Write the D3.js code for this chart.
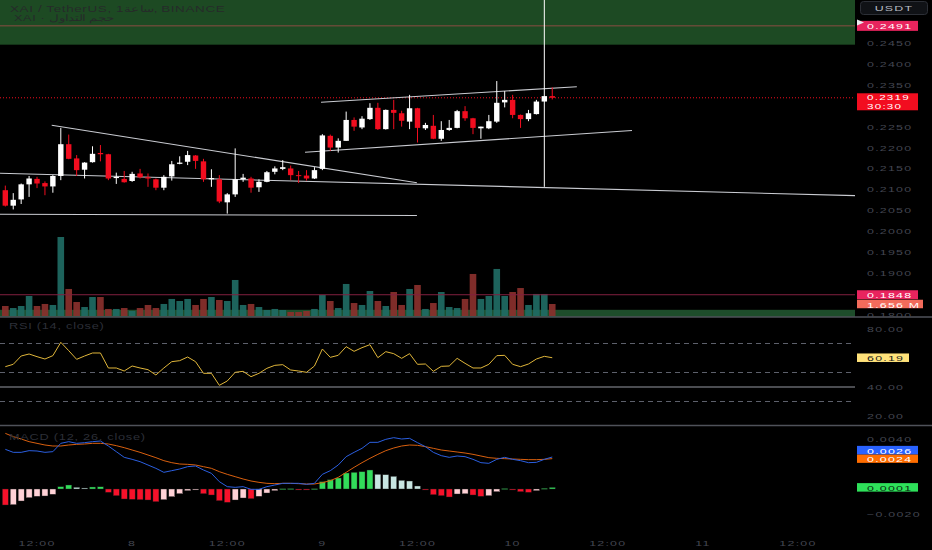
<!DOCTYPE html>
<html><head><meta charset="utf-8">
<script src="https://cdn.jsdelivr.net/npm/d3@7"></script>
<style>
html,body{margin:0;padding:0;background:#000;}
svg{display:block;}
text{font-family:"Liberation Sans",Arial,sans-serif;}
</style></head><body>
<svg id="chart" width="932" height="550"></svg>
<script>
// ---------------- DATA ----------------
const firstCandle = Date.UTC(2024, 7, 7, 8); // hourly candles
const opens  = [0.2098,0.2061,0.2076,0.2112,0.2125,0.2115,0.2107,0.2132,0.2208,0.2174,
                0.2147,0.2165,0.2187,0.2184,0.2127,0.2125,0.2120,0.2138,0.2129,0.2124,
                0.2104,0.2131,0.2161,0.2166,0.2181,0.2167,0.2124,0.2124,0.2069,0.2088,
                0.2124,0.2126,0.2105,0.2118,0.2142,0.2149,0.2150,0.2134,0.2133,0.2126,
                0.2149,0.2228,0.2200,0.2216,0.2266,0.2248,0.2268,0.2295,0.2244,0.2290,
                0.2282,0.2262,0.2294,0.2246,0.2252,0.2221,0.2242,0.2247,0.2287,0.2270,
                0.2246,0.2246,0.2262,0.2308,0.2314,0.2278,0.2268,0.2280,0.2310,0.2323];
const highs  = [0.2109,0.2091,0.2114,0.2132,0.2130,0.2119,0.2134,0.2247,0.2231,0.2182,
                0.2165,0.2203,0.2206,0.2185,0.2140,0.2144,0.2142,0.2149,0.2138,0.2126,
                0.2134,0.2168,0.2179,0.2192,0.2182,0.2173,0.2148,0.2134,0.2091,0.2198,
                0.2137,0.2130,0.2124,0.2144,0.2155,0.2170,0.2157,0.2144,0.2146,0.2153,
                0.2232,0.2231,0.2222,0.2286,0.2272,0.2275,0.2306,0.2307,0.2291,0.2314,
                0.2288,0.2326,0.2295,0.2259,0.2278,0.2263,0.2266,0.2290,0.2299,0.2271,
                0.2250,0.2278,0.2359,0.2335,0.2326,0.2279,0.2290,0.2314,0.2600,0.2344];
const lows   = [0.2059,0.2052,0.2065,0.2082,0.2103,0.2086,0.2092,0.2122,0.2172,0.2132,
                0.2126,0.2164,0.2167,0.2122,0.2113,0.2116,0.2118,0.2126,0.2106,0.2098,
                0.2098,0.2121,0.2160,0.2158,0.2149,0.2118,0.2106,0.2067,0.2042,0.2082,
                0.2118,0.2092,0.2094,0.2117,0.2136,0.2146,0.2122,0.2115,0.2121,0.2125,
                0.2146,0.2192,0.2188,0.2216,0.2240,0.2244,0.2266,0.2242,0.2243,0.2244,
                0.2250,0.2244,0.2212,0.2242,0.2220,0.2216,0.2240,0.2246,0.2264,0.2232,
                0.2221,0.2244,0.2259,0.2296,0.2270,0.2247,0.2263,0.2279,0.2106,0.2315];
const closes = [0.2061,0.2075,0.2112,0.2126,0.2114,0.2107,0.2132,0.2208,0.2173,0.2146,
                0.2164,0.2185,0.2184,0.2126,0.2130,0.2117,0.2137,0.2129,0.2126,0.2104,
                0.2130,0.2160,0.2164,0.2182,0.2168,0.2124,0.2127,0.2071,0.2088,0.2124,
                0.2128,0.2104,0.2118,0.2141,0.2150,0.2153,0.2134,0.2132,0.2126,0.2146,
                0.2229,0.2200,0.2216,0.2266,0.2250,0.2269,0.2295,0.2244,0.2290,0.2283,
                0.2264,0.2294,0.2247,0.2254,0.2221,0.2242,0.2247,0.2287,0.2270,0.2247,
                0.2250,0.2263,0.2307,0.2314,0.2278,0.2268,0.2282,0.2310,0.2323,0.2319];
const volumes = [1.38,1.10,1.38,2.76,1.38,1.66,1.52,10.9,3.73,1.93,
                 1.24,2.62,2.62,0.97,0.97,1.10,0.69,1.10,1.52,1.10,
                 1.66,2.35,2.07,2.35,1.52,2.35,2.62,2.21,2.07,4.97,
                 1.52,1.66,1.24,0.83,0.97,0.83,0.55,0.55,0.69,0.97,
                 2.90,2.07,1.10,4.42,1.79,1.52,3.45,2.07,1.38,3.31,
                 1.52,3.73,4.28,0.97,1.79,3.31,1.24,1.10,2.35,5.80,
                 2.35,2.76,6.49,2.76,3.31,3.86,1.52,3.04,3.04,1.656];
const rsiValues = [54.03,55.64,61.38,62.76,60.92,59.31,61.61,70.81,65.06,59.08,
                   61.38,63.45,63.45,53.11,53.11,51.04,54.48,53.11,51.96,48.28,
                   53.11,57.47,58.16,60.69,57.47,49.43,49.43,41.15,44.14,50.12,
                   50.81,47.13,49.43,52.88,54.94,55.40,51.73,51.04,50.12,54.48,
                   66.21,60.46,61.84,67.82,64.60,67.13,69.20,60.23,64.37,62.99,
                   59.77,62.99,55.64,55.86,50.81,54.25,54.48,59.77,56.32,53.11,
                   53.11,55.64,61.61,61.84,55.64,54.03,55.86,59.31,61.15,60.19];
const macdValues = [0.003173,0.002933,0.002933,0.003067,0.003040,0.002933,0.002987,0.003653,0.003787,0.003653,
                    0.003707,0.003787,0.003840,0.003440,0.002987,0.002533,0.002373,0.002187,0.001920,0.001653,
                    0.001333,0.001467,0.001600,0.001787,0.001840,0.001520,0.001253,0.000587,0.000187,0.000133,
                    0.000187,-0.000027,-0.000027,0.000187,0.000320,0.000453,0.000453,0.000453,0.000373,0.000453,
                    0.001173,0.001467,0.001920,0.002587,0.002933,0.003253,0.003733,0.003733,0.003973,0.004107,
                    0.004000,0.004053,0.003707,0.003387,0.002933,0.002667,0.002533,0.002640,0.002587,0.002373,
                    0.002107,0.002053,0.002373,0.002533,0.002373,0.002267,0.002107,0.002133,0.002373,0.002560];
const signalValues = [0.004453,0.004187,0.004000,0.003787,0.003653,0.003520,0.003440,0.003440,0.003520,0.003573,
                      0.003600,0.003653,0.003653,0.003600,0.003467,0.003307,0.003120,0.002933,0.002720,0.002507,
                      0.002267,0.002107,0.002000,0.001973,0.001920,0.001787,0.001653,0.001387,0.001173,0.000987,
                      0.000800,0.000640,0.000533,0.000453,0.000427,0.000453,0.000453,0.000427,0.000400,0.000400,
                      0.000507,0.000667,0.000933,0.001333,0.001733,0.002107,0.002453,0.002773,0.003067,0.003280,
                      0.003440,0.003520,0.003493,0.003387,0.003253,0.003120,0.003040,0.002960,0.002880,0.002773,
                      0.002640,0.002507,0.002453,0.002427,0.002400,0.002373,0.002347,0.002347,0.002373,0.002430];
const histValues = [-0.001280,-0.001256,-0.000960,-0.000696,-0.000584,-0.000560,-0.000424,0.000184,0.000320,0.000136,
                    0.000080,0.000160,0.000176,-0.000264,-0.000536,-0.000800,-0.000824,-0.000856,-0.000880,-0.001016,
                    -0.000856,-0.000616,-0.000376,-0.000136,-0.000080,-0.000376,-0.000480,-0.000936,-0.001064,-0.000880,
                    -0.000720,-0.000776,-0.000584,-0.000320,-0.000136,0.000024,0.000032,-0.000024,-0.000056,0.000024,
                    0.000584,0.000744,0.000880,0.001280,0.001336,0.001384,0.001520,0.001176,0.001144,0.001016,
                    0.000696,0.000640,0.000240,-0.000040,-0.000456,-0.000536,-0.000640,-0.000400,-0.000384,-0.000480,
                    -0.000584,-0.000536,-0.000216,0.000040,-0.000080,-0.000216,-0.000264,-0.000136,0.000056,0.000130];
// visible tick labels (those hidden behind value labels in the reference are left out)
const priceTicks = [0.2450,0.2400,0.2350,0.2250,0.2200,0.2150,0.2100,0.2050,0.2000,0.1950,0.1900,0.1800];
const rsiTicks = [80,40,20];
const rsiBands = [70,50,30];
const rsiLevelLine = 40;
const macdTicks = [0.004,-0.002];
const timeTicks = ["2024-08-07T12:00Z","2024-08-08T00:00Z","2024-08-08T12:00Z","2024-08-09T00:00Z",
                   "2024-08-09T12:00Z","2024-08-10T00:00Z","2024-08-10T12:00Z","2024-08-11T00:00Z","2024-08-11T12:00Z"];
// drawings (hours from 7 Aug 00:00, price)
const trendLines = [
  {h1:13.85,p1:0.22532,h2:59.93,p2:0.21157},
  {h1:0,p1:0.2142,h2:115.2,p2:0.2085},
  {h1:0,p1:0.2041,h2:59.93,p2:0.20375},
  {h1:47.83,p1:0.23082,h2:80.1,p2:0.23455},
  {h1:45.81,p1:0.21886,h2:87.06,p2:0.22408}
];
const greenZone = {top:0.2600, bottom:0.2446};
const greenBand = {top:0.1812, bottom:0.1790};
const alertLevels = [0.2491, 0.1848];
const countdown = "30:30";

// ---------------- LAYOUT ----------------
const W = 932, H = 550, plotR = 855;
const svg = d3.select("#chart");
const dayStart = Date.UTC(2024,7,7,0);
const hourAt = h => new Date(dayStart + h*3600e3);
const times = opens.map((_, i) => new Date(firstCandle + i*3600e3));
const x = d3.scaleUtc().domain([hourAt(0), hourAt(120)]).range([-58.1, 893.1]);
const yP = d3.scaleLinear().domain([0.2450, 0.1900]).range([43, 273]);
const yV = d3.scaleLinear().domain([0, 10.9]).range([316, 237]);
const yR = d3.scaleLinear().domain([20, 80]).range([416, 329]);
const yM = d3.scaleLinear().domain([-0.002, 0.004]).range([514, 439]);

const up = "#ffffff", down = "#f20d1f";
const defs = svg.append("defs");
defs.append("clipPath").attr("id","cMain").append("rect").attr("x",0).attr("y",0).attr("width",plotR).attr("height",317);
defs.append("clipPath").attr("id","cRsi").append("rect").attr("x",0).attr("y",318).attr("width",plotR).attr("height",107);
defs.append("clipPath").attr("id","cMacd").append("rect").attr("x",0).attr("y",426).attr("width",plotR).attr("height",100);
defs.append("clipPath").attr("id","cAxisMain").append("rect").attr("x",plotR).attr("y",17).attr("width",80).attr("height",300);

svg.append("rect").attr("width",W).attr("height",H).attr("fill","#000");

function txt(g, px, py, s, o) {
  o = o || {};
  const sx = o.sx || 1.55;
  const t = g.append("text")
    .attr("transform", `translate(${px},${py}) scale(${sx},1)`)
    .attr("font-size", o.size || 8)
    .attr("letter-spacing", o.ls != null ? o.ls : 0.8)
    .attr("fill", o.fill || "#434651")
    .attr("text-anchor", o.anchor || "start")
    .text(s);
  if (o.weight) t.attr("font-weight", o.weight);
  return t;
}

// ---------------- MAIN PANE ----------------
const main = svg.append("g").attr("clip-path","url(#cMain)");
main.append("rect").attr("x",0).attr("width",plotR)
  .attr("y", yP(greenZone.top)).attr("height", yP(greenZone.bottom) - yP(greenZone.top))
  .attr("fill","#1d4a23");
main.append("line").attr("x1",0).attr("x2",plotR).attr("y1",yP(alertLevels[0])).attr("y2",yP(alertLevels[0]))
  .attr("stroke","#8a4d42").attr("stroke-width",1);

// volume
main.append("rect").attr("x",0).attr("width",plotR)
  .attr("y", yP(greenBand.top)).attr("height", yP(greenBand.bottom) - yP(greenBand.top))
  .attr("fill","#1e4d2b");
main.selectAll("rect.vol").data(volumes).join("rect").attr("class","vol")
  .attr("x",(d,i)=>x(times[i])-3.3).attr("width",6.6)
  .attr("y",d=>yV(d)).attr("height",d=>yV(0)-yV(d))
  .attr("fill",(d,i)=>closes[i]>=opens[i] ? "#1f6b64" : "#8a302c")
  .attr("fill-opacity",0.92);
main.append("line").attr("x1",0).attr("x2",plotR).attr("y1",yP(alertLevels[1])).attr("y2",yP(alertLevels[1]))
  .attr("stroke","#82203f").attr("stroke-width",1);

// last price dotted line
main.append("line").attr("x1",0).attr("x2",plotR)
  .attr("y1",yP(closes[closes.length-1])).attr("y2",yP(closes[closes.length-1]))
  .attr("stroke",down).attr("stroke-width",1).attr("stroke-dasharray","1,2");

// trend lines
main.selectAll("line.trend").data(trendLines).join("line").attr("class","trend")
  .attr("x1",d=>x(hourAt(d.h1))).attr("y1",d=>yP(d.p1))
  .attr("x2",d=>x(hourAt(d.h2))).attr("y2",d=>yP(d.p2))
  .attr("stroke","#c9cbd1").attr("stroke-width",1.1);

// candles
const cg = main.append("g");
opens.forEach((o,i)=>{
  const c = closes[i], col = c>=o ? up : down, cx = x(times[i]);
  cg.append("line").attr("x1",cx).attr("x2",cx).attr("y1",yP(highs[i])).attr("y2",yP(lows[i]))
    .attr("stroke",col).attr("stroke-width",1);
  const top = yP(Math.max(o,c)), bot = yP(Math.min(o,c));
  cg.append("rect").attr("x",cx-2.7).attr("width",5.4).attr("y",top).attr("height",Math.max(1,bot-top)).attr("fill",col);
});

// legend
txt(svg, 10, 11.5, "XAI / TetherUS, 1ساعة, BINANCE", {size:9, sx:1.5, ls:0.4, fill:"#262b2a"});
txt(svg, 14, 20.5, "XAI · حجم التداول", {size:8.5, sx:1.5, ls:0.4, fill:"#262b2a"});

// ---------------- RSI PANE ----------------
const rsiG = svg.append("g").attr("clip-path","url(#cRsi)");
rsiG.selectAll("line.band").data(rsiBands).join("line").attr("class","band")
  .attr("x1",0).attr("x2",plotR).attr("y1",d=>yR(d)).attr("y2",d=>yR(d))
  .attr("stroke","#5d606b").attr("stroke-dasharray","5,4").attr("stroke-width",1);
rsiG.append("line").attr("x1",0).attr("x2",plotR).attr("y1",yR(rsiLevelLine)).attr("y2",yR(rsiLevelLine))
  .attr("stroke","#9598a1").attr("stroke-width",1);
rsiG.append("path").datum(rsiValues)
  .attr("d", d3.line().x((d,i)=>x(times[i])).y(d=>yR(d)))
  .attr("fill","none").attr("stroke","#e0b63a").attr("stroke-width",1);
txt(svg, 9, 329, "RSI (14, close)", {size:8.5, sx:1.5, ls:0.5, fill:"#2c2f38"});

// ---------------- MACD PANE ----------------
const mg = svg.append("g").attr("clip-path","url(#cMacd)");
mg.selectAll("rect.hist").data(histValues).join("rect").attr("class","hist")
  .attr("x",(d,i)=>x(times[i])-3).attr("width",6)
  .attr("y",d=>Math.min(yM(d),yM(0))).attr("height",d=>Math.max(1,Math.abs(yM(d)-yM(0))))
  .attr("fill",(d,i)=>{
    const prev = i>0 ? histValues[i-1] : d;
    if (d >= 0) return d >= prev ? "#32dc5a" : "#c8e6e2";
    return d < prev || i===0 ? "#f7112a" : "#ffd1d6";
  })
  .attr("stroke","#1b1b1b").attr("stroke-width",0.4);
mg.append("path").datum(signalValues)
  .attr("d", d3.line().x((d,i)=>x(times[i])).y(d=>yM(d)))
  .attr("fill","none").attr("stroke","#d9600f").attr("stroke-width",1);
mg.append("path").datum(macdValues)
  .attr("d", d3.line().x((d,i)=>x(times[i])).y(d=>yM(d)))
  .attr("fill","none").attr("stroke","#2b5fe0").attr("stroke-width",1);
txt(svg, 9, 440, "MACD (12, 26, close)", {size:8.5, sx:1.5, ls:0.5, fill:"#2c2f38"});

// ---------------- SEPARATORS ----------------
[317, 425.5].forEach(yy => svg.append("line").attr("x1",0).attr("x2",W).attr("y1",yy).attr("y2",yy)
  .attr("stroke","#4f525a").attr("stroke-width",1.6));

// ---------------- AXES ----------------
const axG = svg.append("g").attr("clip-path","url(#cAxisMain)");
priceTicks.forEach(p => txt(axG, 867, yP(p)+3, d3.format(".4f")(p)));
rsiTicks.forEach(v => txt(svg, 867, yR(v)+3, d3.format(".2f")(v)));
macdTicks.forEach(v => txt(svg, 867, yM(v)+3, d3.format(".4f")(v)));
const fmtTime = d => d.getUTCHours()===0 ? String(d.getUTCDate()) : d3.utcFormat("%H:%M")(d);
timeTicks.map(s=>new Date(s)).forEach(d => txt(svg, x(d), 546, fmtTime(d), {anchor:"middle"}));

// USDT button
svg.append("rect").attr("x",860.5).attr("y",1.5).attr("width",67).attr("height",13).attr("rx",3)
  .attr("fill","#101216").attr("stroke","#2c2f36");
txt(svg, 894, 11.2, "USDT", {anchor:"middle", fill:"#b8bbc2"});

// value labels
function label(cy, h, fill, lines, tcol, w) {
  svg.append("rect").attr("x",857).attr("y",cy-h/2).attr("width",w||61).attr("height",h).attr("fill",fill);
  lines.forEach((s,k)=>txt(svg, 867, cy-h/2+7.8+k*7.5, s, {fill:tcol||"#fff"}));
}
const lastC = closes[closes.length-1];
label(yP(alertLevels[0]), 10, "#e8245e", [d3.format(".4f")(alertLevels[0])]);
svg.append("path").attr("d","M857,19.5L864,22.5L857,25.5Z").attr("fill","#e9eaee");
svg.append("rect").attr("x",857).attr("y",yP(lastC)-4.5).attr("width",61).attr("height",17).attr("fill",down);
txt(svg, 867, yP(lastC)+2.6, d3.format(".4f")(lastC), {fill:"#fff", size:7.5});
txt(svg, 867, yP(lastC)+11.2, countdown, {fill:"#fff", size:7.5});
label(yP(alertLevels[1]), 9, "#e8245e", [d3.format(".4f")(alertLevels[1])]);
label(yV(volumes[volumes.length-1]), 8.5, "#f26b5b", [volumes[volumes.length-1].toFixed(3)+" M"], "#fff", 66);
label(yR(rsiValues[rsiValues.length-1]), 8.5, "#ffe27a", [rsiValues[rsiValues.length-1].toFixed(2)], "#1a1a1a", 52);
const sigY = yM(signalValues[signalValues.length-1]);
const macY = Math.min(yM(macdValues[macdValues.length-1]), sigY - 8.5);
label(sigY, 8.5, "#ff6d00", [signalValues[signalValues.length-1].toFixed(4)]);
label(macY, 8.5, "#2962ff", [macdValues[macdValues.length-1].toFixed(4)]);
label(yM(histValues[histValues.length-1]), 8.5, "#2ee05a", [histValues[histValues.length-1].toFixed(4)], "#0a2a10");
</script>
</body></html>
